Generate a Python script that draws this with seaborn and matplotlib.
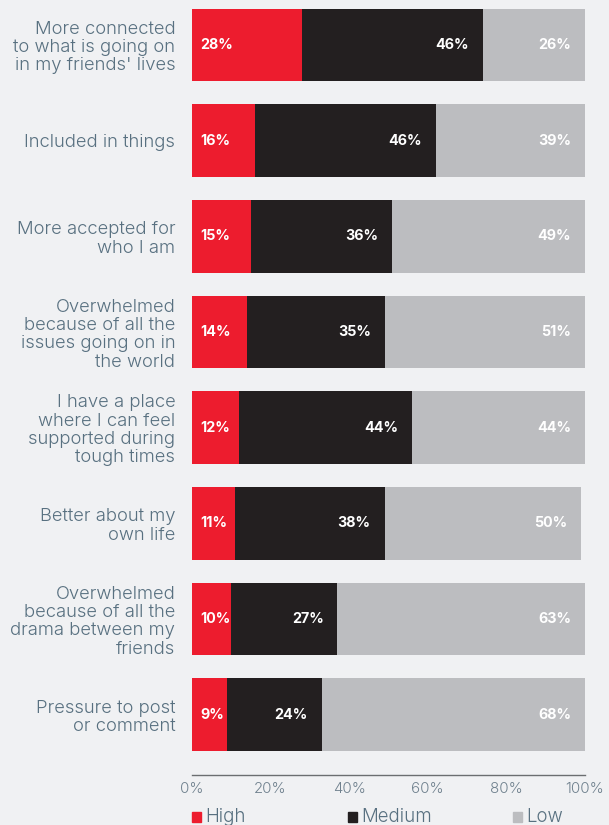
import matplotlib
matplotlib.use("Agg")
import matplotlib.pyplot as plt
from matplotlib.patches import Rectangle
import numpy as np
import pandas as pd
import seaborn as sns

categories = [
    "More connected\nto what is going on\nin my friends' lives",
    "Included in things",
    "More accepted for\nwho I am",
    "Overwhelmed\nbecause of all the\nissues going on in\nthe world",
    "I have a place\nwhere I can feel\nsupported during\ntough times",
    "Better about my\nown life",
    "Overwhelmed\nbecause of all the\ndrama between my\nfriends",
    "Pressure to post\nor comment",
]
high = [28, 16, 15, 14, 12, 11, 10, 9]
medium = [46, 46, 36, 35, 44, 38, 27, 24]
low = [26, 39, 49, 51, 44, 50, 63, 68]
series_names = ["High", "Medium", "Low"]
tick_values = [0, 20, 40, 60, 80, 100]

BG = "#F0F1F3"
RED = "#ED1C2E"
DARK = "#231F20"
GREY = "#BCBDC0"
LABEL = "#587080"
TICK = "#70818E"
colors = [RED, DARK, GREY]

sns.set_theme(style="white")
plt.rcParams["font.family"] = ["Inter", "DejaVu Sans"]

df = pd.DataFrame({"cat": categories, "High": high, "Medium": medium, "Low": low})
df["hm"] = df["High"] + df["Medium"]
df["total"] = df["hm"] + df["Low"]

fig = plt.figure(figsize=(6.09, 8.25), dpi=100, facecolor=BG)
ax = fig.add_axes([192 / 609, 50 / 825, 393 / 609, 775 / 825])
ax.set_facecolor(BG)

# stacked bars drawn as cumulative layers, back to front
for col, c in [("total", GREY), ("hm", DARK), ("High", RED)]:
    sns.barplot(data=df, x=col, y="cat", orient="h", color=c, width=0.76,
                saturation=1, ax=ax, linewidth=0)

ax.set_xlim(0, 100)
ax.set_ylim(7.63, -0.47)
ax.set_xlabel("")
ax.set_ylabel("")
ax.set_xticks(tick_values)
ax.set_xticklabels([f"{v}%" for v in tick_values], color=TICK, fontsize=10.8,
                   fontweight=300)
ax.tick_params(axis="x", length=0, pad=5)
ax.tick_params(axis="y", length=0, pad=12)
for t in ax.get_yticklabels():
    t.set_color(LABEL)
    t.set_fontsize(13.3)
    t.set_fontweight(300)
    t.set_linespacing(1.1)

for s in ["top", "right", "left"]:
    ax.spines[s].set_visible(False)
ax.spines["bottom"].set_color("#6B6E70")
ax.spines["bottom"].set_linewidth(1.0)

kw = dict(color="white", fontsize=10.3, fontweight="bold", va="center",
          textcoords="offset points")
for i in range(len(categories)):
    h, m, l = high[i], medium[i], low[i]
    ax.annotate(f"{h}%", xy=(0, i), xytext=(6, 0), ha="left", **kw)
    ax.annotate(f"{m}%", xy=(h + m, i), xytext=(-10, 0), ha="right", **kw)
    ax.annotate(f"{l}%", xy=(min(h + m + l, 100), i), xytext=(-10, 0), ha="right", **kw)

# legend row along the bottom edge
legend_x = [192, 348, 513]
for name, c, xp in zip(series_names, colors, legend_x):
    fig.patches.append(Rectangle((xp / 609, (825 - 822) / 825), 9 / 609, 10 / 825,
                                 transform=fig.transFigure, color=c, figure=fig))
    fig.text((xp + 13) / 609, (825 - 817) / 825, name, color=LABEL, fontsize=13.5,
             fontweight=300, va="center", ha="left")

fig.savefig("out.png", dpi=100, facecolor=BG)
